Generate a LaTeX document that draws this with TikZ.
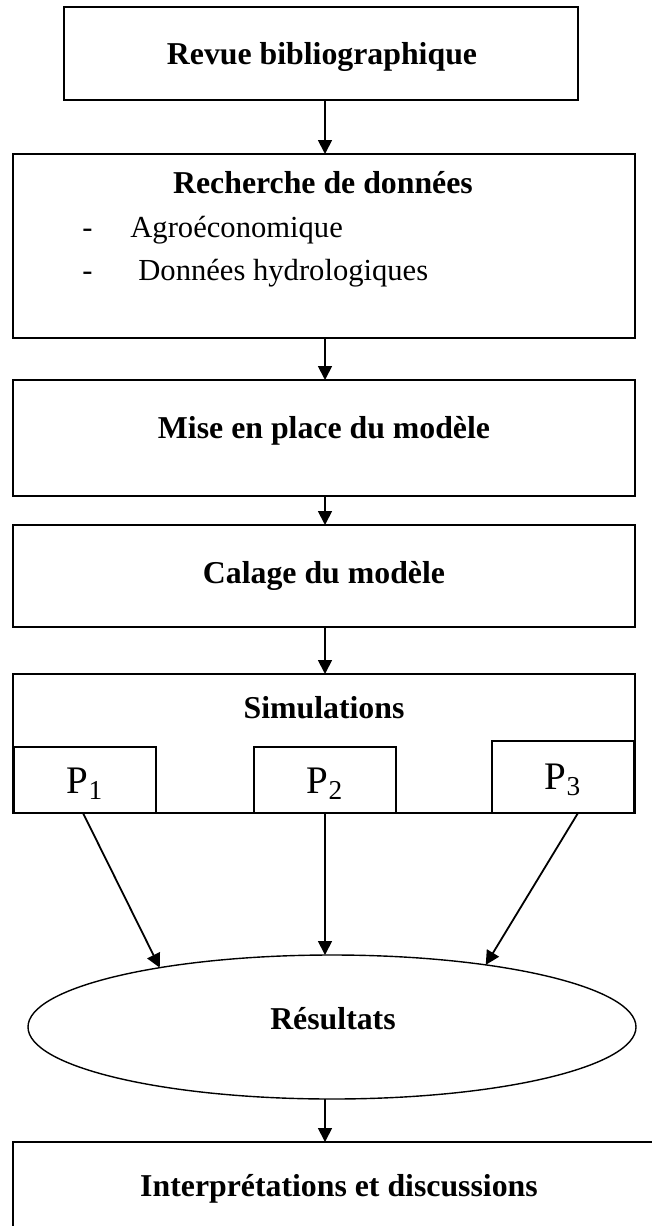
\documentclass[tikz,border=0pt]{standalone}
\usepackage{fontspec}
\setmainfont{Liberation Serif}
\usetikzlibrary{arrows.meta,shapes.geometric}
\begin{document}
\begin{tikzpicture}[x=0.5pt,y=-0.5pt,
  frame/.style={draw, line width=0.9pt, inner sep=0pt, outer sep=0pt},
  title/.style={font=\fontsize{15.9}{18}\selectfont\bfseries, inner sep=0pt, anchor=base},
  item/.style={font=\fontsize{15.3}{18}\selectfont, inner sep=0pt, anchor=base west},
  plabel/.style={font=\fontsize{19.5}{22}\selectfont, inner sep=0pt, anchor=base},
  arr/.style={line width=0.9pt, -{Triangle[length=7pt,width=7pt]}}]
\clip (0,0) rectangle (652,1226);
\useasboundingbox (0,0) rectangle (652,1226);
% boxes
\node[frame, minimum width=257pt, minimum height=46.5pt] (b1) at (321,53.5) {};
\node[frame, minimum width=311pt, minimum height=92pt] (b2) at (324,246) {};
\node[frame, minimum width=311pt, minimum height=58pt] (b3) at (324,438) {};
\node[frame, minimum width=311pt, minimum height=51pt] (b4) at (324,576) {};
\node[frame, minimum width=311pt, minimum height=69.5pt] (b5) at (324,743.5) {};
\node[frame, fill=white, minimum width=71pt, minimum height=33pt] (p1) at (85,780) {};
\node[frame, fill=white, minimum width=71pt, minimum height=33pt] (p2) at (325,780) {};
\node[frame, fill=white, minimum width=71pt, minimum height=36pt] (p3) at (563,777) {};
\node[frame, ellipse, line width=0.7pt, minimum width=304pt, minimum height=72pt] (res) at (332,1027) {};
\node[frame, minimum width=350pt, minimum height=100pt] (b6) at (363,1242) {};
% texts
\node[title] (t1) at (322,64) {Revue bibliographique};
\node[title] (t2) at (323,193) {Recherche de données};
\node[item] (d1) at (82,237) {-};
\node[item] (i1) at (130,237) {Agroéconomique};
\node[item] (d2) at (82,280) {-};
\node[item] (i2) at (138,280) {Données hydrologiques};
\node[title] (t3) at (324,438) {Mise en place du modèle};
\node[title] (t4) at (324,583) {Calage du modèle};
\node[title] (t5) at (324,718) {Simulations};
\node[plabel] (l1) at (85,793) {P\textsubscript{1}};
\node[plabel] (l2) at (325,793) {P\textsubscript{2}};
\node[plabel] (l3) at (563,789) {P\textsubscript{3}};
\node[title] (t6) at (333,1029) {Résultats};
\node[title] (t7) at (339,1196) {Interprétations et discussions};
% connectors
\coordinate (ax) at (325,0);
\coordinate (a1) at (83,0);
\coordinate (a3) at (578,0);
\draw[arr] (b1.south -| ax) -- (b2.north -| ax);
\draw[arr] (b2.south -| ax) -- (b3.north -| ax);
\draw[arr] (b3.south -| ax) -- (b4.north -| ax);
\draw[arr] (b4.south -| ax) -- (b5.north -| ax);
\draw[arr] (p1.south -| a1) -- (res.161.4);
\draw[arr] (p2.south) -- (res.north -| p2.south);
\draw[arr] (p3.south -| a3) -- (res.22.5);
\draw[arr] (res.south -| ax) -- (b6.north -| ax);
\end{tikzpicture}
\end{document}
